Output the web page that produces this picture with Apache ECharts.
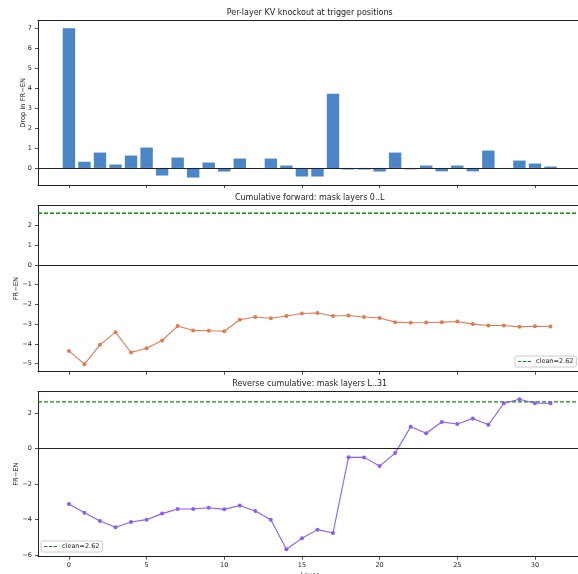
<!DOCTYPE html>
<html>
<head>
<meta charset="utf-8">
<script src="https://cdn.jsdelivr.net/npm/echarts@6/dist/echarts.min.js"></script>
<style>
html,body{margin:0;padding:0;background:#fff;}
#chart{width:578px;height:574px;}
</style>
</head>
<body>
<div id="chart"></div>
<script>
const layers = [0,1,2,3,4,5,6,7,8,9,10,11,12,13,14,15,16,17,18,19,20,21,22,23,24,25,26,27,28,29,30,31];
const knockoutDrop = [7.00,0.31,0.77,0.17,0.62,1.02,-0.38,0.52,-0.48,0.27,-0.18,0.47,-0.02,0.47,0.12,-0.43,
                      -0.43,3.72,-0.08,-0.08,-0.18,0.77,-0.07,0.12,-0.17,0.12,-0.17,0.87,-0.02,0.37,0.22,0.07];
const cumForward = [-4.36,-5.03,-4.05,-3.41,-4.44,-4.22,-3.83,-3.10,-3.32,-3.34,-3.36,-2.78,-2.64,-2.70,-2.59,-2.46,
                    -2.44,-2.59,-2.56,-2.64,-2.69,-2.90,-2.93,-2.92,-2.90,-2.87,-3.00,-3.07,-3.07,-3.14,-3.11,-3.12];
const cumReverse = [-3.12,-3.61,-4.08,-4.43,-4.13,-4.00,-3.66,-3.40,-3.40,-3.33,-3.42,-3.20,-3.51,-4.00,-5.66,-5.05,
                    -4.56,-4.75,-0.49,-0.50,-0.99,-0.26,1.22,0.86,1.49,1.38,1.68,1.33,2.54,2.77,2.54,2.54];
const cleanValue = 2.62;
const cleanLabel = 'clean=2.62';
const xTicks = [0,5,10,15,20,25,30];
const yTicks1 = [0,1,2,3,4,5,6,7];
const yTicks2 = [-5,-4,-3,-2,-1,0,1,2];
const yTicks3 = [-6,-4,-2,0,2];
const titles = ['Per-layer KV knockout at trigger positions','Cumulative forward: mask layers 0..L','Reverse cumulative: mask layers L..31'];
const yNames = ['Drop in FR\u2212EN','FR\u2212EN','FR\u2212EN'];
const xName = 'Layer';

const FONT = 'DejaVu Sans';
const AX = '#222';
const GREEN = '#138a13';
function lim(lo, hi){ const r = hi - lo; return [lo - 0.05*r, hi + 0.05*r]; }
const xl = lim(layers[0]-0.4, layers[layers.length-1]+0.4);
const yl1 = lim(Math.min(0, ...knockoutDrop), Math.max(0, ...knockoutDrop));
const yl2 = lim(Math.min(0, ...cumForward), Math.max(cleanValue, ...cumForward));
const yl3 = lim(Math.min(0, ...cumReverse), Math.max(cleanValue, ...cumReverse));
const fmt = v => String(v).replace('-', '\u2212');

const grids = [
  {left:38, width:543.4, top:20.7, height:164.3, outerBoundsMode:'none', containLabel:false},
  {left:38, width:543.4, top:205.7, height:166, outerBoundsMode:'none', containLabel:false},
  {left:38, width:543.4, top:391.7, height:165, outerBoundsMode:'none', containLabel:false}
];

function bottomX(gi, showLabels){
  return {
    type:'value', gridIndex:gi, position:'bottom', min:xl[0], max:xl[1],
    axisLine:{show:true, onZero:false, lineStyle:{color:AX, width:1}},
    axisTick:{show:true, length:3, customValues:xTicks, lineStyle:{color:AX, width:0.8}},
    axisLabel:{show:showLabels, customValues:xTicks, margin:5, fontSize:6.5, fontFamily:FONT, color:AX},
    splitLine:{show:false},
    name: showLabels ? xName : '', nameLocation:'middle', nameGap:15, nameMoveOverlap:false,
    nameTextStyle:{fontSize:6.5, fontFamily:FONT, color:AX, verticalAlign:'top'}
  };
}
function topX(gi, title){
  return {
    type:'value', gridIndex:gi, position:'top', min:xl[0], max:xl[1],
    axisLine:{show:true, onZero:false, lineStyle:{color:AX, width:1}},
    axisTick:{show:false}, axisLabel:{show:false}, splitLine:{show:false},
    name:title, nameLocation:'middle', nameGap:4, nameMoveOverlap:false,
    nameTextStyle:{fontSize:8, fontFamily:FONT, color:AX}
  };
}
function leftY(gi, l, ticks, name, gap){
  return {
    type:'value', gridIndex:gi, min:l[0], max:l[1],
    axisLine:{show:true, onZero:false, lineStyle:{color:AX, width:1}},
    axisTick:{show:true, length:3, customValues:ticks, lineStyle:{color:AX, width:0.8}},
    axisLabel:{customValues:ticks, margin:6, fontSize:6.5, fontFamily:FONT, color:AX, formatter:fmt},
    splitLine:{show:false},
    name:name, nameLocation:'middle', nameGap:gap, nameRotate:90, nameMoveOverlap:false,
    nameTextStyle:{fontSize:6.7, fontFamily:FONT, color:AX}
  };
}
const zeroLine = {silent:true, symbol:'none', label:{show:false}, animation:false,
  lineStyle:{color:'#222', width:1.1, type:'solid'}, data:[{yAxis:0}]};
const pts = arr => layers.map((l,i)=>[l, arr[i]]);
function cleanSeries(xi, yi){
  return {
    type:'line', name:cleanLabel, xAxisIndex:xi, yAxisIndex:yi,
    data:[[xl[0], cleanValue],[xl[1], cleanValue]], symbol:'none', silent:true, z:1,
    itemStyle:{color:GREEN}, lineStyle:{color:GREEN, type:[4,2], width:1.3}
  };
}
const dashIcon = 'path://M0,0h3.6v1h-3.6z M5.2,0h3.6v1h-3.6z M10.4,0h3.6v1h-3.6z';
const legendBase = {
  data:[{name:cleanLabel, icon:dashIcon, itemStyle:{color:GREEN, borderWidth:0}}],
  orient:'horizontal', padding:[2,3], itemWidth:13, itemHeight:1.8, itemGap:4,
  itemStyle:{color:GREEN, borderWidth:0}, inactiveColor:GREEN,
  borderColor:'#ccc', borderWidth:1, borderRadius:2, backgroundColor:'#fff',
  textStyle:{fontSize:6.5, fontFamily:FONT, color:AX}, selectedMode:false
};

const option = {
  animation:false,
  backgroundColor:'#fff',
  grid:grids,
  xAxis:[bottomX(0,false), bottomX(1,false), bottomX(2,true), topX(0,titles[0]), topX(1,titles[1]), topX(2,titles[2])],
  yAxis:[leftY(0, yl1, yTicks1, yNames[0], 11), leftY(1, yl2, yTicks2, yNames[1], 18), leftY(2, yl3, yTicks3, yNames[2], 18)],
  legend:[
    Object.assign({}, legendBase, {left:515, top:356}),
    Object.assign({}, legendBase, {left:41, top:541})
  ],
  series:[
    {type:'bar', name:'knockout', xAxisIndex:0, yAxisIndex:0, data:pts(knockoutDrop), barWidth:12.4,
     itemStyle:{color:'#4a86c8'}, markLine:zeroLine},
    {type:'line', name:'forward', xAxisIndex:1, yAxisIndex:1, data:pts(cumForward),
     symbol:'circle', symbolSize:4, lineStyle:{color:'#e07b54', width:1.1}, z:3,
     itemStyle:{color:'#e07b54'}, markLine:zeroLine},
    cleanSeries(1,1),
    {type:'line', name:'reverse', xAxisIndex:2, yAxisIndex:2, data:pts(cumReverse),
     symbol:'circle', symbolSize:4, lineStyle:{color:'#8b5cf6', width:1.1}, z:3,
     itemStyle:{color:'#8b5cf6'}, markLine:zeroLine},
    cleanSeries(2,2)
  ]
};
const chart = echarts.init(document.getElementById('chart'), null, {renderer:'canvas'});
chart.setOption(option);
</script>
</body>
</html>
